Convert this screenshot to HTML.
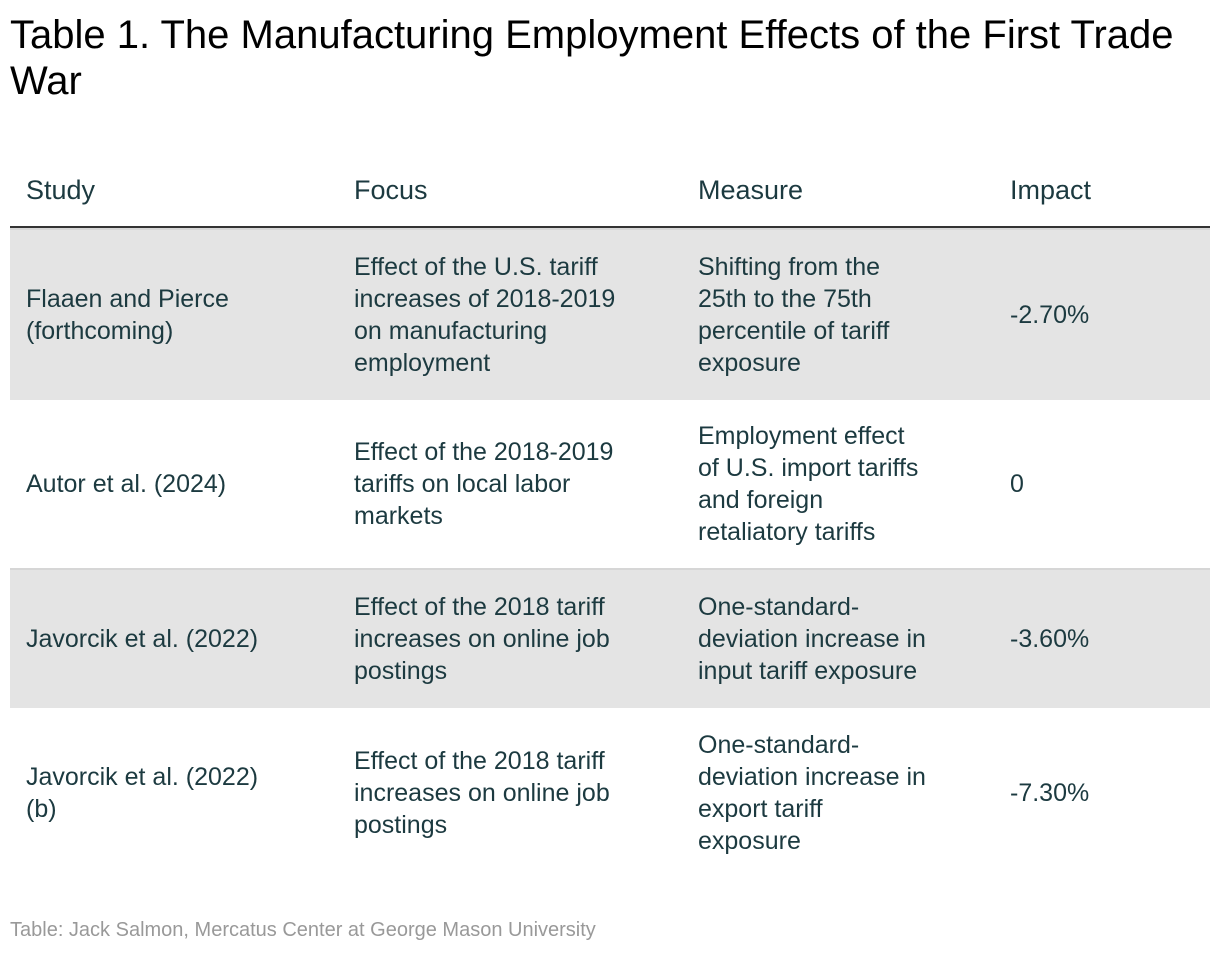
<!DOCTYPE html>
<html><head><meta charset="utf-8"><style>
body{margin:0;width:1220px;height:954px;background:#fff;position:relative;overflow:hidden;font-family:"Liberation Sans",sans-serif}
.title{position:absolute;left:10px;top:12px;font-size:40px;line-height:46px;color:#000;width:1210px;white-space:nowrap}
.hdr{position:absolute;top:175px;font-size:27px;color:#1c3a40}
.rule{position:absolute;left:10px;top:226px;width:1200px;height:4px;background:#333}
.row{position:absolute;left:10px;width:1200px}
.gray{background:#e4e4e4;border-top:2px solid #d6d6d6}
.cell{position:absolute;top:50%;transform:translateY(-50%);font-size:25px;line-height:32px;color:#1c3a40;white-space:nowrap}
.c1{left:16px}.c2{left:344px}.c3{left:688px}.c4{left:1000px}
.foot{position:absolute;left:10px;top:919px;font-size:20px;color:#999}
</style></head><body>
<div class="title">Table 1. The Manufacturing Employment Effects of the First Trade<br>War</div>
<div class="hdr" style="left:26px">Study</div>
<div class="hdr" style="left:354px">Focus</div>
<div class="hdr" style="left:698px">Measure</div>
<div class="hdr" style="left:1010px">Impact</div>
<div class="rule"></div>

<div class="row gray" style="top:228px;height:170px">
<div class="cell c1">Flaaen and Pierce<br>(forthcoming)</div>
<div class="cell c2">Effect of the U.S. tariff<br>increases of 2018-2019<br>on manufacturing<br>employment</div>
<div class="cell c3">Shifting from the<br>25th to the 75th<br>percentile of tariff<br>exposure</div>
<div class="cell c4">-2.70%</div>
</div>
<div class="row" style="top:400px;height:168px">
<div class="cell c1">Autor et al. (2024)</div>
<div class="cell c2">Effect of the 2018-2019<br>tariffs on local labor<br>markets</div>
<div class="cell c3">Employment effect<br>of U.S. import tariffs<br>and foreign<br>retaliatory tariffs</div>
<div class="cell c4">0</div>
</div>
<div class="row gray" style="top:568px;height:138px">
<div class="cell c1">Javorcik et al. (2022)</div>
<div class="cell c2">Effect of the 2018 tariff<br>increases on online job<br>postings</div>
<div class="cell c3">One-standard-<br>deviation increase in<br>input tariff exposure</div>
<div class="cell c4">-3.60%</div>
</div>
<div class="row" style="top:708px;height:170px">
<div class="cell c1">Javorcik et al. (2022)<br>(b)</div>
<div class="cell c2">Effect of the 2018 tariff<br>increases on online job<br>postings</div>
<div class="cell c3">One-standard-<br>deviation increase in<br>export tariff<br>exposure</div>
<div class="cell c4">-7.30%</div>
</div>
<div class="foot">Table: Jack Salmon, Mercatus Center at George Mason University</div>
</body></html>
